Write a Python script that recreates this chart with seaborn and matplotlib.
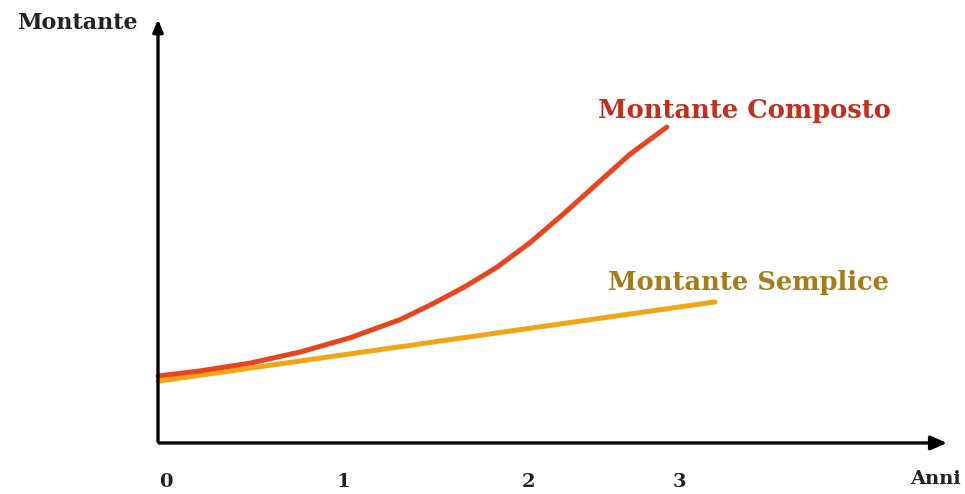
import numpy as np
import pandas as pd
import matplotlib
matplotlib.use("Agg")
import matplotlib.pyplot as plt
import seaborn as sns

# values (years, montante in units of the starting capital)
anni_composto = [0.0, 0.23, 0.5, 0.77, 1.04, 1.31, 1.47, 1.65, 1.83, 2.01, 2.19, 2.37, 2.55, 2.75]
montante_composto = [1.03, 1.11, 1.23, 1.40, 1.62, 1.90, 2.12, 2.39, 2.70, 3.08, 3.52, 3.98, 4.44, 4.86]
anni_semplice = [0.0, 3.01]
montante_semplice = [0.95, 2.17]
tick_pos = [0.04, 1.0, 2.0, 2.82]
tick_labels = ["0", "1", "2", "3"]

df = pd.concat([
    pd.DataFrame({"anni": anni_semplice, "montante": montante_semplice, "tipo": "Montante Semplice"}),
    pd.DataFrame({"anni": anni_composto, "montante": montante_composto, "tipo": "Montante Composto"}),
])

sns.set_theme(style="white")
plt.rcParams["font.family"] = ["DejaVu Serif"]

fig = plt.figure(figsize=(9.65, 4.94), dpi=100)
ax = fig.add_axes([0, 0, 1, 1])
sns.lineplot(data=df, x="anni", y="montante", hue="tipo",
             palette={"Montante Semplice": "#f2a516", "Montante Composto": "#e8451e"},
             linewidth=3.6, legend=False, ax=ax, sort=False)
for l in ax.lines:
    l.set_solid_joinstyle("round")
    l.set_solid_capstyle("round")

ax.set_xlim(-0.854, 4.362)
ax.set_ylim(-0.785, 6.815)
ax.axis("off")

# axes with arrows
ax.annotate("", xy=(4.28, 0), xytext=(-0.01, 0),
            arrowprops=dict(arrowstyle="-|>,head_length=0.8,head_width=0.35", color="black", lw=2.4))
ax.annotate("", xy=(0, 6.56), xytext=(0, -0.02),
            arrowprops=dict(arrowstyle="-|>,head_length=0.6,head_width=0.25", color="black", lw=2.4))

for p, lab in zip(tick_pos, tick_labels):
    ax.text(p, -0.6, lab, ha="center", va="center", fontsize=14, fontweight="bold", color="#222222")
ax.text(4.2, -0.55, "Anni", ha="center", va="center", fontsize=14, fontweight="bold", color="#222222")
ax.text(-0.76, 6.46, "Montante", ha="left", va="center", fontsize=16, fontweight="bold", color="#222222")

ax.text(2.38, 5.12, "Montante Composto", ha="left", va="center", fontsize=18.5, fontweight="bold", color="#c0301c")
ax.text(2.43, 2.47, "Montante Semplice", ha="left", va="center", fontsize=18.5, fontweight="bold", color="#a47c1c")

fig.savefig("out.png", dpi=100)
